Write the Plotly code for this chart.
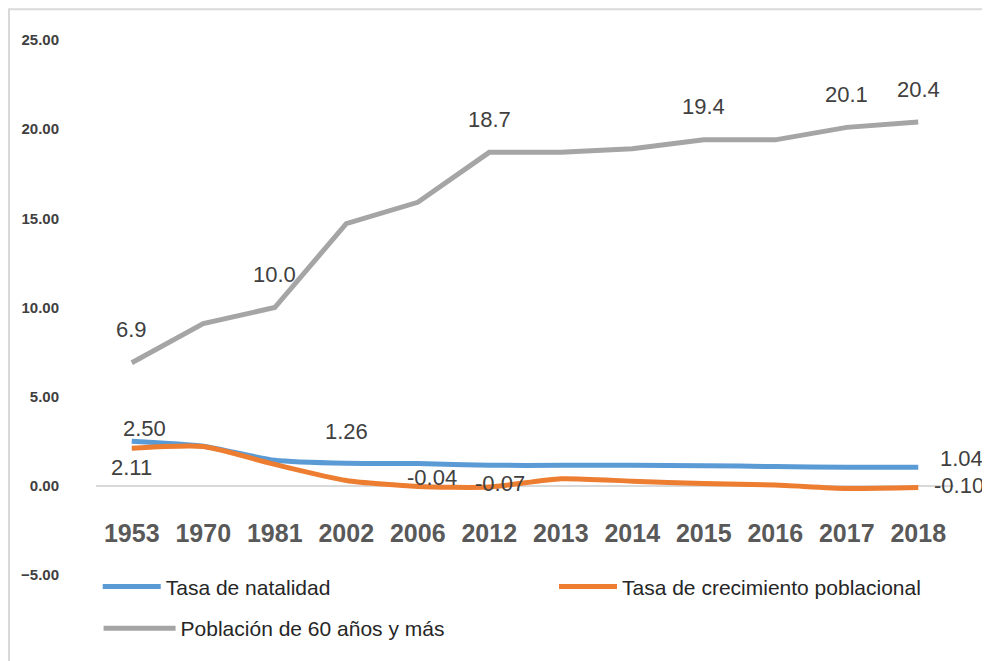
import plotly.graph_objects as go

# ---------------- data ----------------
years = ["1953", "1970", "1981", "2002", "2006", "2012",
         "2013", "2014", "2015", "2016", "2017", "2018"]
natalidad = [2.50, 2.22, 1.43, 1.26, 1.25, 1.15, 1.15, 1.15, 1.13, 1.08, 1.04, 1.04]
crecimiento = [2.11, 2.20, 1.20, 0.30, -0.04, -0.07, 0.40, 0.26, 0.13, 0.04, -0.15, -0.10]
poblacion60 = [6.9, 9.1, 10.0, 14.7, 15.9, 18.7, 18.7, 18.9, 19.4, 19.4, 20.1, 20.4]
y_ticks = [-5, 0, 5, 10, 15, 20, 25]

names = ["Tasa de natalidad", "Tasa de crecimiento poblacional",
         "Población de 60 años y más"]

# indices of points that carry a data label
lbl_nat = [0, 3, 11]
lbl_cre = [0, 4, 5, 11]
lbl_pob = [0, 2, 5, 8, 10, 11]

# label offsets (pixels) – styling only
off_nat = {0: (13, 13), 3: (0, 32), 11: (43, 9)}
off_cre = {0: (0, -19), 4: (14, 9), 5: (11, 4), 11: (41, 2)}
off_pob = {i: (0, 33) for i in lbl_pob}

BLUE, ORANGE, GRAY = "#5B9BD5", "#ED7D31", "#A5A5A5"
FONT = "Liberation Sans, Arial, sans-serif"

fig = go.Figure()
fig.add_trace(go.Scatter(x=years, y=natalidad, name=names[0], mode="lines",
                         line=dict(color=BLUE, width=5, shape="spline", smoothing=0.6),
                         legend="legend"))
fig.add_trace(go.Scatter(x=years, y=crecimiento, name=names[1], mode="lines",
                         line=dict(color=ORANGE, width=5, shape="spline", smoothing=0.6),
                         legend="legend3"))
fig.add_trace(go.Scatter(x=years, y=poblacion60, name=names[2], mode="lines",
                         line=dict(color=GRAY, width=5),
                         legend="legend2"))

annotations = []
for series, idxs, offs, fmt in [(natalidad, lbl_nat, off_nat, "{:.2f}"),
                                (crecimiento, lbl_cre, off_cre, "{:.2f}"),
                                (poblacion60, lbl_pob, off_pob, "{:.1f}")]:
    for i in idxs:
        dx, dy = offs[i]
        # on a category axis the annotation x is the category index
        annotations.append(dict(x=i, y=series[i], xref="x", yref="y",
                                text=fmt.format(series[i]), showarrow=False,
                                xshift=dx, yshift=dy,
                                font=dict(family=FONT, size=22, color="#404040")))

leg_common = dict(orientation="h", xanchor="left", yanchor="middle",
                  bgcolor="rgba(0,0,0,0)",
                  font=dict(family=FONT, size=21, color="#262626"))

fig.update_layout(
    width=982, height=653,
    margin=dict(l=88, r=36, t=32, b=83),
    paper_bgcolor="white", plot_bgcolor="white",
    showlegend=True,
    annotations=annotations,
    xaxis=dict(type="category", categoryorder="array", categoryarray=years,
               range=[-0.5, len(years) - 0.5],
               anchor="free", position=5 / 30, automargin=False,
               showgrid=False, showline=False, zeroline=False, ticks="",
               ticklabelstandoff=30,
               tickfont=dict(family=FONT, size=25, color="#595959", weight="bold")),
    yaxis=dict(range=[-5, 25], tickvals=y_ticks, tickformat=".2f",
               automargin=False,
               showgrid=False, showline=False, ticks="",
               zeroline=True, zerolinecolor="#D9D9D9", zerolinewidth=1.5,
               ticklabelstandoff=36,
               tickfont=dict(family="Liberation Sans Narrow, Liberation Sans, Arial, sans-serif",
                             size=15, color="#404040", weight="bold")),
    legend=dict(x=0.002, y=-0.022, itemwidth=58, **leg_common),
    legend3=dict(x=(554 - 96) / 858, y=-0.022, itemwidth=58, **leg_common),
    legend2=dict(x=0.003, y=-0.100, itemwidth=72, **leg_common),
    shapes=[dict(type="rect", xref="paper", yref="paper",
                 x0=-0.1014, x1=1.06, y0=-0.18, y1=1.0576,
                 line=dict(color="#D9D9D9", width=2), fillcolor="rgba(0,0,0,0)",
                 layer="below")],
)

fig.write_html("out.html")
